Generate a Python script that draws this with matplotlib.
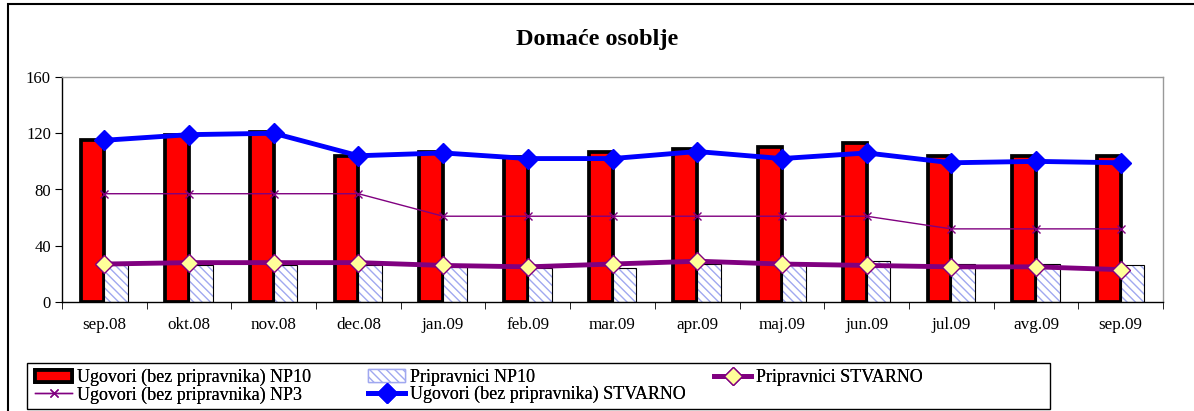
import matplotlib
matplotlib.use('Agg')
import matplotlib.pyplot as plt
import numpy as np
from matplotlib.patches import Rectangle, Patch

plt.rcParams['font.family'] = ['Liberation Serif', 'DejaVu Serif']
plt.rcParams['hatch.linewidth'] = 1.0

months = ['sep.08', 'okt.08', 'nov.08', 'dec.08', 'jan.09', 'feb.09', 'mar.09',
          'apr.09', 'maj.09', 'jun.09', 'jul.09', 'avg.09', 'sep.09']
ugovori_np10 = [115, 119, 121, 104, 107, 103, 107, 109, 110, 113, 104, 104, 104]
pripravnici_np10 = [26, 26, 26, 26, 25, 24, 24, 27, 27, 29, 27, 27, 26]
ugovori_np3 = [77, 77, 77, 77, 61, 61, 61, 61, 61, 61, 52, 52, 52]
ugovori_stvarno = [115, 119, 120, 104, 106, 102, 102, 107, 102, 106, 99, 100, 99]
pripravnici_stvarno = [27, 28, 28, 28, 26, 25, 27, 29, 27, 26, 25, 25, 23]

hatch_col = '#a0a8f0'
W, H = 1194, 411

fig = plt.figure(figsize=(W / 100, H / 100), dpi=100)
ax = fig.add_axes([62 / W, 1 - 302 / H, (1163 - 62) / W, (302 - 77) / H])

x = np.arange(len(months))
w = 0.28
red = ax.bar(x - w / 2, ugovori_np10, w, color='#ff0000', edgecolor='black', linewidth=2.7,
             zorder=2)
# hatched bars: hatch in light blue, then black outline on top
ax.bar(x + w / 2, pripravnici_np10, w, color='white', edgecolor=hatch_col, linewidth=0,
       hatch='\\\\\\\\', zorder=2)
ax.bar(x + w / 2, pripravnici_np10, w, fill=False, edgecolor='black', linewidth=0.8,
       zorder=2)
np3, = ax.plot(x, ugovori_np3, color='#800080', linewidth=1, marker='x', markersize=6,
               markeredgewidth=1, zorder=3)
blue, = ax.plot(x, ugovori_stvarno, color='#0000ff', linewidth=3.5, marker='D', markersize=10,
                zorder=4)
prip, = ax.plot(x, pripravnici_stvarno, color='#800080', linewidth=3.5, marker='D', markersize=9,
                markerfacecolor='#ffff99', markeredgecolor='#800080', markeredgewidth=1,
                zorder=4)

ax.set_xlim(-0.5, len(months) - 0.5)
ax.set_ylim(0, 160)
ax.set_yticks([0, 40, 80, 120, 160])
ax.tick_params(axis='y', direction='out', length=5, labelsize=12, pad=3)
ax.set_xticks(x)
ax.set_xticklabels(months, fontsize=12.3)
ax.tick_params(axis='x', length=0, pad=11)
ax.set_xticks(np.arange(len(months) + 1) - 0.5, minor=True)
ax.tick_params(axis='x', which='minor', direction='out', length=5)

for side in ['top', 'right']:
    ax.spines[side].set_color('#999999')
    ax.spines[side].set_linewidth(1)
ax.spines['left'].set_linewidth(1)
ax.spines['bottom'].set_linewidth(1)

fig.text(0.5, 0.905, 'Domaće osoblje', ha='center', va='center', fontsize=17.5,
         fontweight='bold')

# legend: three equal-width columns, one legend per column
hatch_handle = Patch(facecolor='white', edgecolor=hatch_col, hatch='\\\\\\\\', linewidth=1)
columns = [
    ([red, np3], ['Ugovori (bez pripravnika) NP10', 'Ugovori (bez pripravnika) NP3'], 35),
    ([hatch_handle, blue], ['Pripravnici NP10', 'Ugovori (bez pripravnika) STVARNO'], 368),
    ([prip], ['Pripravnici STVARNO'], 714),
]
for hs, ls, xpos in columns:
    lg = fig.legend(hs, ls, loc='upper left', bbox_to_anchor=(xpos / W, 1 - 369 / H),
                    frameon=False, fontsize=13, handlelength=2.05, handletextpad=0.3,
                    borderpad=0, labelspacing=0.0, borderaxespad=0)
    fig.add_artist(lg)

# legend box, wider than its content as in the original
fig.patches.append(Rectangle((27 / W, 1 - 409 / H), (1050 - 27) / W, 46 / H,
                             transform=fig.transFigure, fill=False,
                             edgecolor='black', linewidth=1))

fig.patches.append(Rectangle((0.0067, -0.01), 1.1, 1.0, transform=fig.transFigure,
                             fill=False, edgecolor='black', linewidth=1.5))

fig.savefig('out.png', dpi=100)
